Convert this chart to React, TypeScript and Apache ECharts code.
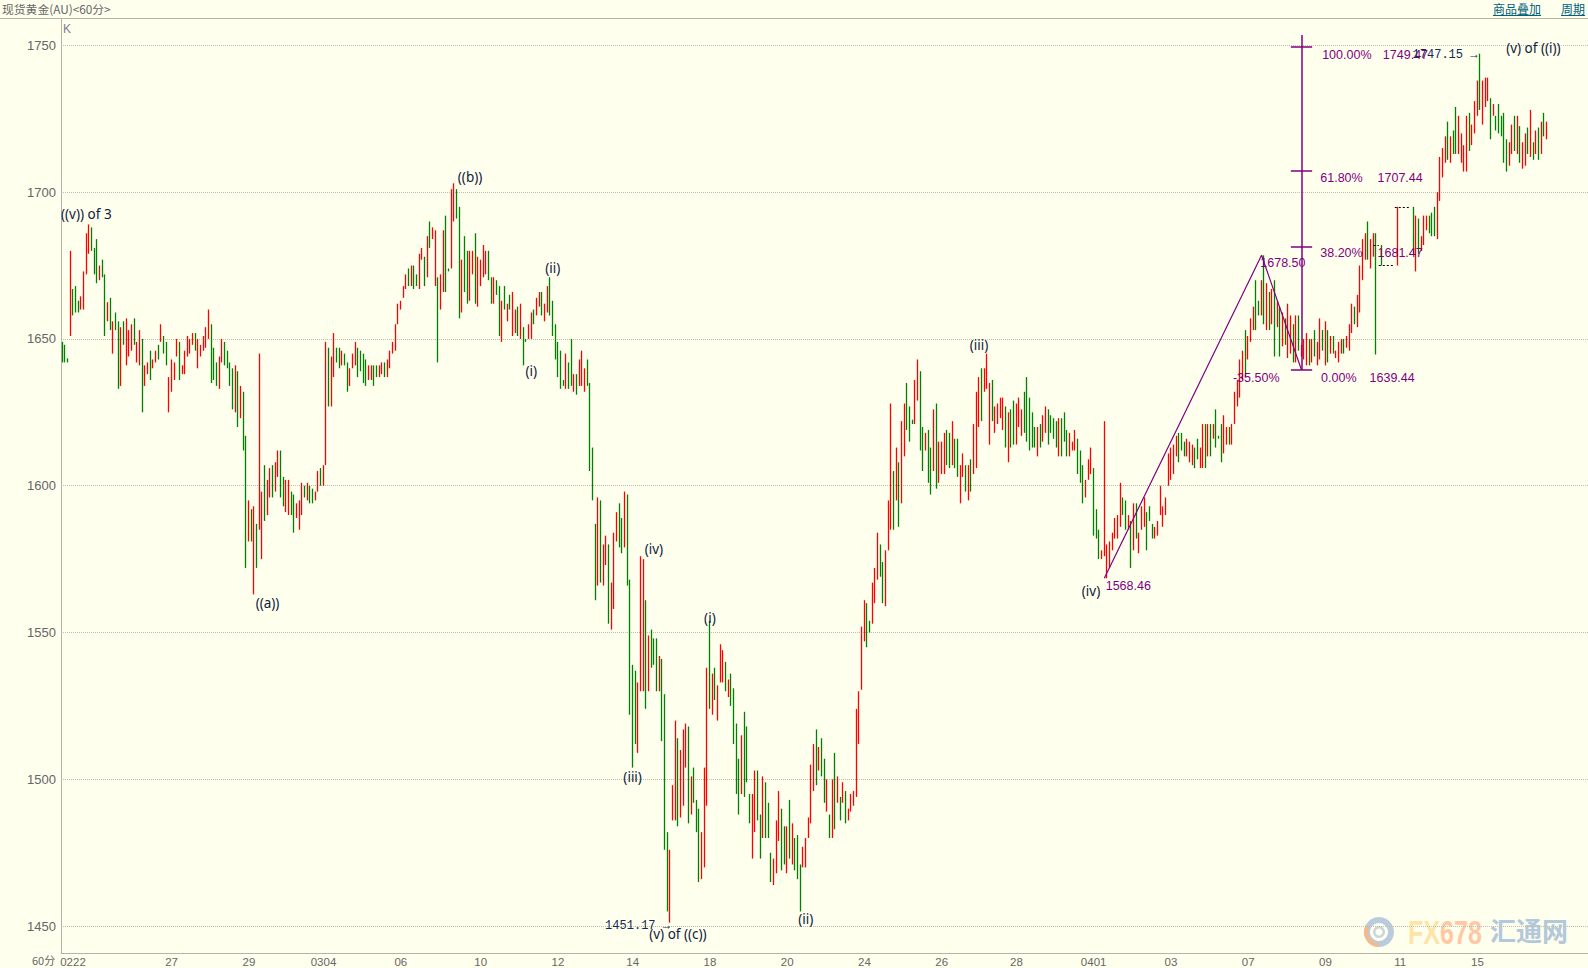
import React, { useEffect, useRef } from "react";
import * as echarts from "echarts";

type Bar = (number | string)[];
const gap: Bar = ["-", "-", "-", "-"];

const waveFebruary: Bar[] = [
[1648,1643,1642,1649],[1647,1643,1642,1648],[1643,1642.6,1642,1643.4],[1655,1666,1651,1680],[1666,1659,1658,1667],[1664,1660,1659,1668],[1663,1660,1659,1663],[1661,1664,1660,1664.5],[1664,1666,1660,1673],[1673,1685,1672,1686],[1680,1688,1679,1689],[1684,1681,1680,1688],[1681,1676,1672,1681],[1679,1673,1669,1684],[1671,1675,1670,1675],[1677,1672,1671,1677],[1672,1660,1651,1672],[1657,1662,1656,1662.5],[1662,1655,1653,1664],[1650,1656,1645,1656],[1658,1654,1653,1659],
[1650,1645,1633,1656],[1636,1642,1634,1654],[1652,1649,1648,1656],[1646,1650,1641,1657],[1646,1651,1644,1653],[1651,1655,1646,1655],[1657,1650,1648,1657],[1642,1648,1642,1649],[1646,1652,1641,1653],[1645,1638,1625,1650],[1634,1635,1634,1641],[1638,1642,1638,1642],[1644,1639,1636,1646],[1640,1643,1640,1643],[1643,1645,1642,1646],[1647,1643,1643,1648],[1650,1655,1649,1655],[1650,1646,1645,1651],[1646,1641,1641,1649],[1625,1634,1625,1637],[1632,1636,1632,1643],[1637,1641,1636,1642],[1644,1649,1644,1650],[1645,1640,1636,1649],[1638,1640,1638,1641],[1639,1646,1638,1646],[1645,1650,1644,1651],[1646,1650,1645,1650],[1648,1652,1648,1652],[1651,1647,1646,1652],[1642,1646,1640,1650],[1644,1648,1644,1648],[1646,1650,1646,1651],[1649,1654,1647,1654],[1652,1656,1650,1660],[1654,1640,1635,1655],[1647,1642,1636,1647],[1642,1637,1634,1642],[1640,1644,1633,1644],[1642,1649,1642,1650],[1648,1642,1641,1649],[1645,1640,1640,1646],[1639,1635,1634,1642],[1640,1630,1626,1640],[1628,1639,1625,1641],[1637,1626,1620,1639],[1626,1634,1623,1634],[1632,1622,1612,1632],
[1616,1590,1572,1617],[1581,1595,1581,1595],[1592,1586,1581,1592],[1565,1581,1563,1593],[1587,1573,1572,1587],[1585,1590,1585,1645],[1575,1590,1575,1598],[1597,1590,1588,1607],[1594,1600,1590,1602],[1598,1606,1596,1606],[1605,1597,1596,1607],[1600,1607,1598,1608],[1604,1612,1603,1612],[1611,1604,1596,1612],[1603,1595,1593,1603],[1592,1600,1591,1602],[1592,1595,1590,1602],[1598,1592,1590,1598],[1597,1590,1584,1597],[1589,1591,1589,1594],[1585,1594,1585,1595],[1590,1601,1590,1601],[1600,1596,1596,1600],[1595,1600,1595,1601],[1600,1595,1594,1600],[1597,1594,1594,1599],[1595,1598,1595,1598],[1600,1602,1598,1605],[1604,1600,1600,1606],[1601,1606,1600,1607],[1625,1640,1607,1649],
];

const waveMarchHigh: Bar[] = [
[1646,1641,1627,1647],[1637,1642,1627,1644],[1640,1650,1637,1652],[1647,1642,1642,1647],[1647,1640,1640,1647],[1642,1646,1641,1646],[1645,1642,1641,1645],[1642,1638,1632,1642],[1636,1640,1634,1640],[1640,1645,1640,1645],[1643,1649,1641,1649],[1647,1641,1637,1647],[1646,1641,1639,1646],[1645,1641,1635,1645],[1643,1638,1634,1643],[1636,1641,1636,1641],[1637,1639,1636,1641],[1641,1636,1634,1641],[1641,1637,1637,1641],[1638,1641,1637,1641],[1639,1642,1638,1642],[1642,1638,1637,1642],[1637,1642,1637,1643],[1640,1646,1640,1646],[1646,1649,1645,1649],[1650,1654,1646,1655],[1656,1660,1655,1662],[1661,1663,1660,1663],[1664,1667,1664,1668],[1667,1671,1667,1672],[1674,1669,1668,1674],[1671,1672,1668,1675],[1675,1670,1667,1675],[1672,1668,1668,1672],[1670,1676,1667,1679],[1677,1680,1677,1681],[1678,1672,1668,1678],[1676,1685,1671,1685],[1690,1681,1681,1690],[1684,1688,1684,1688],[1669,1687,1668,1687],[1671,1658,1642,1671],[1660,1668,1660,1672],[1668,1678,1666,1687],[1676,1670,1666,1692],[1673.5,1673,1673,1674],[1684,1700,1674,1701],[1692,1703,1690,1703],[1701,1694,1691,1701],[1685,1675,1657,1695],[1660,1677,1659,1677],[1685,1668,1666,1685],[1680,1668,1662,1680],[1668,1678,1663,1680],[1672,1679,1672,1680],[1680,1670,1662,1686],[1668,1676,1661,1678],[1668,1675,1668,1677],[1672,1680,1671,1682],[1672,1679,1672,1680],[1680,1672,1670,1680],[1671,1662,1662,1671],[1663,1670,1662,1671],[1669,1665,1665,1670],[1665,1658,1651,1668],[1655,1662,1649,1663],[1668,1662,1660,1668],[1656,1661,1656,1662],[1665,1660,1660,1665],[1655,1664,1651,1666],[1654,1660,1652,1660],[1660,1654,1651,1661],[1655,1660,1650,1662],[1654,1642,1641,1654],[1649.5,1649,1649,1650],[1652,1654,1650,1655],[1652,1658,1650,1659],[1660,1656,1655,1660],[1660,1664,1658,1664],[1662,1665,1661,1666],[1666,1660,1658,1666],[1658,1662,1656,1662],[1662,1668,1659,1668],[1670,1662,1658,1671],[1662,1654,1651,1663],[1655,1644,1643,1655],[1649,1638,1637,1649],[1646,1638,1633,1646],[1636,1634,1634,1636],[1634,1642,1633,1645],[1642,1636,1633,1642],[1650,1635,1634,1650],[1634,1638,1632,1638],[1637,1633,1631,1638],[1636,1642,1634,1643],[1637,1645,1634,1646],[1634,1639,1632,1640],[1642,1636,1634,1643],[1635,1606,1605,1635],[1613,1597,1595,1613],
];

const waveMarchDrop: Bar[] = [
[1587,1580,1561,1587],[1590,1596,1566,1596],[1595,1575,1567,1595],[1570,1579,1566,1580],[1575,1583,1573,1583],[1580,1570,1553,1580],[1555,1567,1551,1567],[1562,1580,1558,1584],[1585,1590,1581,1591],[1593,1583,1579,1594],[1589,1580,1577,1589],[1580,1598,1579,1598],[1597,1575,1566,1597],[1568,1550,1522,1568],[1539,1520,1504,1539],[1537,1520,1512,1537],[1515,1533,1509,1533],[1542,1563,1530,1576],[1535,1560,1530,1575],[1560,1545,1524,1561],[1540,1549,1530,1549],[1551,1545,1538,1551],[1548,1540,1539,1548],[1548,1530,1530,1548],[1530,1541,1530,1542],[1541,1515,1513,1541],
[1529,1490,1476,1529],[1482,1476,1455,1482],[1464,1476,1451.17,1476],[1486,1498,1486,1498],[1490,1514,1486,1520],[1514,1500,1484,1514],[1487,1510,1487,1510],[1495,1512,1491,1517],[1504,1515,1504,1519],[1518,1495,1485,1518],[1488,1500,1488,1501],[1504,1495,1492,1504],[1493,1484,1482,1493],[1480,1470,1465,1490],[1468,1474,1466,1482],[1485,1500,1470,1504],[1510,1530,1491,1538],
];

const waveMarchBase: Bar[] = [
[1554,1533,1524,1554],[1525,1536,1522,1536],[1538,1530,1527,1538],[1528,1531,1520,1532],[1535,1545,1533,1546],[1535,1542,1533,1544],[1540,1532,1530,1540],[1529,1534,1528,1534],[1536,1528,1525,1536],
[1531,1512,1512,1531],[1519,1498,1495,1519],[1507,1490,1488,1507],[1500,1515,1495,1515],[1515,1510,1494,1523],[1518,1505,1499,1518],[1495,1486,1485,1495],[1480,1495,1473,1495],[1490,1503,1482,1503],[1503,1492,1486,1503],[1488,1480,1473,1488],[1482,1500,1480,1501],[1499,1487,1480,1499],[1492,1484,1480,1492],[1475,1466,1465,1475],[1465,1472,1464,1473],[1470,1486,1468,1486],[1480,1496,1479,1496],[1490,1474,1469,1490],[1484,1474,1471,1484],[1470,1483,1468,1484],[1493,1475,1473,1493],[1472,1485,1471,1485],[1480,1470,1469,1480],[1481,1468,1466,1481],[1471,1470,1455,1471],[1470,1476,1470,1477],[1472,1480,1470,1480],[1481,1486,1480,1487],[1485,1504,1485,1505],[1497,1510,1496,1512],[1516,1506,1498,1517],[1503,1510,1503,1511],[1514,1504,1501,1514],[1507,1495,1492,1507],[1490,1500,1489,1500],[1488,1481,1480,1488],[1483,1500,1480,1500],[1508,1490,1483,1509],
[1493,1500,1492,1501],[1494,1490,1486,1494],[1495,1498,1492,1499],[1496,1487,1485,1496],[1487,1490,1486,1490],[1490,1494,1489,1495],[1491,1496,1491,1496],[1496,1520,1494,1524],[1512,1530,1512,1530],
];

const waveMarchRally: Bar[] = [
[1550,1552,1530.5,1552],[1548,1561,1547,1561],[1560,1550,1545,1560],[1552,1551,1550,1554],[1553,1564,1553,1567],[1562,1572,1560,1572],[1568,1584,1568,1584],[1580,1571,1569,1580],[1574,1560,1560,1574],[1560,1578,1559,1578],[1578,1595,1578,1595],[1585,1593,1585,1628],[1605,1590,1585,1605],[1595,1612,1595,1613],[1608,1592,1586,1608],[1594,1622,1594,1622],[1610,1625,1610,1628],[1630,1620,1619,1635],[1627,1618,1615,1627],[1622,1621.5,1621,1622.5],[1622,1630,1621,1636],[1629,1640,1629,1643],[1623,1618,1612,1639],[1620,1608,1605,1620],[1612,1617,1612,1618],[1618,1606,1601,1619],[1612,1600,1597,1613],[1605,1620,1605,1626],[1628,1600,1599,1628],[1603,1614,1601,1615],[1606,1614,1604,1615],[1606,1616,1604,1618],[1619,1609,1607,1619],[1618,1608,1606,1618],[1610,1620,1607,1622],[1616,1608,1606,1616],[1616,1605,1603,1616],[1596,1605,1594,1607],[1603,1610,1603,1611],[1606,1600,1598,1607],[1597,1604,1595,1607],[1608,1600,1598,1609],[1604,1618,1604,1621],[1608,1625,1606,1632],[1624,1635,1620,1637],[1635,1622,1622,1640],[1634,1638,1632,1640],[1633,1640,1633,1645],[1620,1635,1614,1635],[1635,1625,1622,1636],[1620,1627,1618,1627],[1622,1627,1621,1628],[1625,1630,1623,1630],[1622,1630,1619,1630],[1627,1615,1613,1627],[1610,1624,1608,1625],[1626,1615,1613,1626],[1629,1620,1614,1629],[1615,1627,1614,1628],[1622,1629,1620,1630],[1618,1626,1617,1626],[1631,1625,1618,1632],[1637,1625,1615,1637],[1630,1617,1612,1630],[1625,1614,1613,1625],[1620,1615,1613,1620],[1612,1620,1610,1620],[1621,1615,1613,1621],[1618,1623,1615,1624],[1620,1627,1618,1627],[1626,1617,1614,1626],[1624,1619,1618,1624],[1623,1618,1616,1623],[1622,1616,1613,1622],[1614,1622,1610,1623],[1623,1614,1610,1623],[1625,1618,1615,1625],[1619,1613,1610,1619],[1612,1618,1610,1618],[1612,1615,1612,1615],[1614,1619,1612,1619],[1616,1606,1604,1616],[1612,1602,1601,1612],[1607,1596,1594,1607],[1596,1602,1596,1602],[1602,1609,1602,1609],[1604,1612,1604,1613],[1606,1596,1583,1606],[1592,1583,1582,1592],[1585,1577,1575,1585],[1576,1578,1575,1578],[1576,1583,1576,1622],[1568.46,1580,1568.46,1580],
];

const waveApril: Bar[] = [
[1574,1580,1572,1581],[1578,1584,1578,1584],[1584,1589,1582,1589],[1586,1590,1582,1590],[1590,1601,1586,1601],[1596,1590,1590,1596],[1595,1587,1585,1595],[1586,1590,1585,1590],[1588,1578,1572,1588],[1585,1593,1578,1594],[1594,1586,1582,1594],[1577,1584,1577,1584],[1585,1592,1585,1593],[1587,1595,1586,1596],[1591,1585,1578,1591],[1593,1590,1588,1593],[1587,1582,1582,1587],[1582,1585,1582,1586],[1583,1586,1583,1588],[1590,1599,1590,1600],[1586,1592,1586,1593],[1590,1596,1590,1596],[1600,1610,1600,1611],[1603,1612,1602,1613],[1605,1612,1604,1614],[1610,1616,1610,1617],[1617,1610,1608,1618],[1618,1613,1612,1618],[1615,1611,1610,1615],[1612,1616,1610,1616],[1609,1614,1608,1615],[1608,1613,1607,1614],[1613,1608,1606,1613],[1616,1610,1609,1616],[1607,1613,1606,1613],[1610,1620,1606,1621],[1620,1608,1606,1621],[1612,1620,1610,1621],[1620,1612,1610,1621],[1616,1620,1616,1621],[1626,1615,1613,1626],[1616.5,1616,1616,1617],[1620,1612,1608,1621],[1611,1622,1611,1624],[1614,1619,1614,1620],[1620,1614,1614,1620],[1616,1620,1614,1621],[1622,1630,1621,1632],[1627,1635,1627,1636],[1630,1641,1630,1643],[1638,1645,1636,1646],[1652,1642,1637,1653],[1643,1650,1643,1651],[1650,1656,1649,1657],[1653,1660,1653,1661],[1668,1655,1653,1670],[1662,1658,1658,1663],[1660,1668,1658,1670],[1664,1658,1655,1678.5],[1656,1668,1653,1669],[1662,1655,1653,1666],[1658,1665,1655,1667],[1668,1650,1644,1670],[1658,1662,1654,1663],[1660,1648,1644,1661],[1650,1658,1647.5,1659],[1656,1650,1648,1657],[1645,1655,1643.5,1662],[1648,1656,1645,1658],[1655,1645,1642,1655],[1650,1658,1642,1658],[1657,1650,1646,1658],[1645,1648,1644,1648],[1645,1650,1643,1650],
[1642,1649,1641,1652],[1648,1643,1641,1650],[1643,1648,1642,1650],[1650,1645,1644,1653],[1642,1648,1641,1649],[1645,1652,1643,1657],[1652,1648,1646,1653],[1644,1652,1641,1656],[1650,1645,1642,1653],[1645,1650,1645,1651],[1650,1646,1645,1651],[1644,1646,1643.5,1646],[1643,1648,1642,1649],[1645,1649,1645,1650],[1649,1645,1645,1650],[1647,1650,1647,1651],[1647,1654,1646,1655],[1652,1660,1652,1662],[1660,1656,1655,1661],[1655,1664,1654,1665],[1660,1673,1659,1675],[1670,1682,1670,1684],[1677,1684,1677,1686],[1688,1680,1677,1690],[1678,1682,1674,1684],[1680,1684,1678,1686],[1683,1678,1644.7,1686],
gap,[1682,1675,1675,1682],gap,gap,gap,gap,gap,[1675,1695,1675,1695],gap,gap,gap,gap,gap,
];

const waveAprilHigh: Bar[] = [
[1695,1684,1678.7,1695],[1680,1692,1673,1692],[1691,1684,1679,1691],[1682,1685,1680,1685],[1685,1690,1682,1692],[1688,1691,1687,1692],[1691,1687,1686,1692],[1692,1687,1685,1693],[1695,1687,1685,1695],[1685,1695,1684,1700],[1706,1712,1697,1712],[1708,1712,1705,1715],[1710,1717,1710,1719],[1720,1714,1711,1724],[1712,1718,1710,1719],[1720,1715,1713,1721],[1722,1714,1713,1729],[1716,1724,1713,1726],[1712,1718,1710,1720],[1710,1715,1707,1716],[1714,1725,1707,1726],[1724,1716,1714,1727],[1718,1722,1716,1723],[1722,1730,1720,1731],[1726,1736,1726,1738],[1740,1728,1728,1747.15],[1728,1737,1723,1738],[1730,1738,1729,1739],[1731,1738,1731,1739],[1732,1722,1718,1732],[1727,1729,1726,1730],[1726,1722,1721,1726],[1730,1720,1720,1730],[1725,1720,1719,1726],[1727,1715,1710,1727],[1718,1712,1707,1718],[1710,1716,1709,1717],[1714,1722,1713,1723],[1725,1715,1714,1726],[1714,1722,1713,1726],[1722,1712,1710,1722.5],[1712,1716,1708,1717],[1710,1718,1709,1720],[1720,1714,1713,1722],[1712,1720,1712,1728],[1716,1712,1711,1717],[1713,1718,1713,1721],[1720,1712,1711,1722],[1713,1722,1713,1724],[1726,1720,1719,1727],[1719,1724,1718,1724],
];

const bars: Bar[] = [...waveFebruary, ...waveMarchHigh, ...waveMarchDrop, ...waveMarchBase, ...waveMarchRally, ...waveApril, ...waveAprilHigh];

const slotCount = 573;
const tickLabels = ["0222","27","29","0304","06","10","12","14","18","20","24","26","28","0401","03","07","09","11","15"];
const tickSlots = [4,41,70,98,127,157,186,214,243,272,301,330,358,387,416,445,474,502,531];
const yTicks = [1450,1500,1550,1600,1650,1700,1750];

const waveLine = [[391,1568.46],[450,1678.5],[465,1639.44]];
const fibLevels = [1749.47,1707.44,1681.47,1639.44];
const fibSlot = 465;
const fibTop = 1753.5;
const gapLines = [[492,494,1682],[494,500,1675],[500,506,1695]];

const waveNotes: [string, number, number][] = [
  ["((v)) of 3",9,1692.7],["((a))",77,1560.2],["((b))",153,1705.3],["(i)",176,1639.2],["(ii)",184,1674.3],["(iii)",214,1500.8],["(iv)",222,1578.4],["(i)",243,1555],["(v) of ((c))",231,1447.3],["(ii)",279,1452.3],["(iii)",344,1648],["(iv)",386,1564.2],["(v) of ((i))",552,1749.2],
];
const fibNotes: [string, number, number][] = [
  ["1568.46",400,1566],["1678.50",458,1676],["-35.50%",448,1636.8],["0.00%",479,1636.8],["1639.44",499,1636.8],["100.00%",482,1746.8],["1749.47",504,1746.8],["61.80%",480,1704.9],["1707.44",502,1704.9],["38.20%",480,1679.2],["1681.47",502,1679.2],
];
const extremeNotes: [string, number, number][] = [
  ["1451.17 →",228,1450.2],["1747.15 →",531,1746.6],
];

const PURPLE = "#800080";
const GRID = "#BDBDB0";
const SANS = "'Liberation Sans',sans-serif";

function note(name: string, i: number, v: number, color: string, font: string, size: number, position: string) {
  return {
    name,
    coord: [i, v],
    symbol: "circle",
    symbolSize: 0,
    itemStyle: { color: "transparent" },
    label: { show: true, formatter: name, position, distance: 0, color, fontFamily: font, fontSize: size, fontWeight: "normal" as const },
  };
}

export default function App() {
  const ref = useRef<HTMLDivElement>(null);
  useEffect(() => {
    document.body.style.margin = "0";
    const chart = echarts.init(ref.current!, undefined, { renderer: "svg" });
    const categories = Array.from({ length: slotCount }, (_, i) => {
      const k = tickSlots.indexOf(i);
      return k >= 0 ? tickLabels[k] : "";
    });
    chart.setOption({
      animation: false,
      backgroundColor: "#FFFFEE",
      grid: { left: 61, top: 19, width: 1527, height: 934 },
      xAxis: {
        type: "category",
        data: categories,
        boundaryGap: true,
        axisLine: { show: true, lineStyle: { color: "#B4B4AC", width: 1 } },
        axisTick: { show: false },
        splitLine: { show: false },
        axisLabel: { interval: (_: number, v: string) => v !== "", margin: 3, color: "#666", fontFamily: SANS, fontSize: 11.5, hideOverlap: false },
      },
      yAxis: {
        type: "value",
        min: 1440.84,
        max: 1758.97,
        scale: true,
        axisLine: { show: true, lineStyle: { color: "#B4B4AC", width: 1 } },
        axisTick: { show: false, customValues: yTicks },
        splitLine: { show: true, lineStyle: { color: GRID, type: [1, 1], width: 1 } },
        axisLabel: { customValues: yTicks, formatter: (v: number) => String(v), margin: 5, color: "#666", fontFamily: SANS, fontSize: 13 },
      },
      tooltip: { show: false },
      series: [
        {
          type: "candlestick",
          name: "K",
          data: bars,
          barWidth: 1,
          progressive: 0,
          large: false,
          itemStyle: { color: "#FF0000", color0: "#008000", borderColor: "#FF0000", borderColor0: "#008000", borderWidth: 1.3 },
          markPoint: {
            silent: true,
            data: [
              ...waveNotes.map(([t, i, v]) => note(t, i, v, "#10203C", "'Noto Sans',sans-serif", 13.5, "inside")),
              ...fibNotes.map(([t, i, v]) => note(t, i, v, PURPLE, SANS, 12.5, "inside")),
              ...extremeNotes.map(([t, i, v]) => note(t, i, v, "#0F2B57", "'Liberation Mono',monospace", 12, "left")),
            ],
          },
        },
        {
          type: "line",
          name: "wave",
          data: waveLine,
          symbol: "none",
          lineStyle: { color: PURPLE, width: 1.2 },
          silent: true,
          z: 5,
          markLine: {
            silent: true,
            symbol: "none",
            label: { show: false },
            data: [
              [{ coord: [fibSlot, fibLevels[3]], lineStyle: { color: PURPLE, width: 1.5, type: "solid" } }, { coord: [fibSlot, fibTop] }],
              ...fibLevels.map((v) => [{ coord: [fibSlot - 4, v], lineStyle: { color: PURPLE, width: 1.5, type: "solid" } }, { coord: [fibSlot + 4, v] }]),
              ...gapLines.map(([a, b, v]) => [{ coord: [a, v], lineStyle: { color: "#000", width: 1, type: [2, 2] } }, { coord: [b, v] }]),
            ],
          },
        },
      ],
      graphic: [
        { type: "rect", shape: { x: 0, y: 18, width: 1588, height: 1 }, style: { fill: "#B4B4AC" } },
        { type: "text", x: 2, y: 3, style: { text: "现货黄金(AU)<60分>", fill: "#666", font: "11.8px 'Noto Sans CJK SC'" } },
        { type: "text", x: 1493, y: 2, style: { text: "商品叠加", fill: "#00607F", font: "12px 'Noto Sans CJK SC'" } },
        { type: "rect", shape: { x: 1493, y: 15, width: 48, height: 1 }, style: { fill: "#00607F" } },
        { type: "text", x: 1561, y: 2, style: { text: "周期", fill: "#00607F", font: "12px 'Noto Sans CJK SC'" } },
        { type: "rect", shape: { x: 1561, y: 15, width: 24, height: 1 }, style: { fill: "#00607F" } },
        { type: "text", x: 63, y: 23, style: { text: "K", fill: "#807C90", font: "12px 'Liberation Sans'" } },
        { type: "text", x: 32, y: 954, style: { text: "60分", fill: "#666", font: "11px 'Noto Sans CJK SC'" } },
        { type: "ring", shape: { cx: 1379, cy: 932, r: 15, r0: 9 }, style: { fill: "#B9CBDD" } },
        { type: "arc", shape: { cx: 1379, cy: 932, r: 13, startAngle: 1.6, endAngle: 3.6 }, style: { stroke: "#F6B98A", lineWidth: 4, fill: "none" } },
        { type: "ring", shape: { cx: 1379, cy: 932, r: 6, r0: 3.5 }, style: { fill: "#C8D6E4" } },
        { type: "text", x: 1408, y: 915, scaleX: 0.74, style: { text: "FX", fill: "#FFE4A8", font: "bold 34px 'Liberation Sans'" } },
        { type: "text", x: 1440, y: 915, scaleX: 0.74, style: { text: "678", fill: "#FFC8A4", font: "bold 34px 'Liberation Sans'" } },
        { type: "text", x: 1490, y: 916, style: { text: "汇通网", fill: "#B4C8DC", font: "bold 26px 'Noto Sans CJK SC'" } },
      ],
    });
    return () => chart.dispose();
  }, []);
  return <div ref={ref} style={{ width: 1588, height: 968 }} />;
}
